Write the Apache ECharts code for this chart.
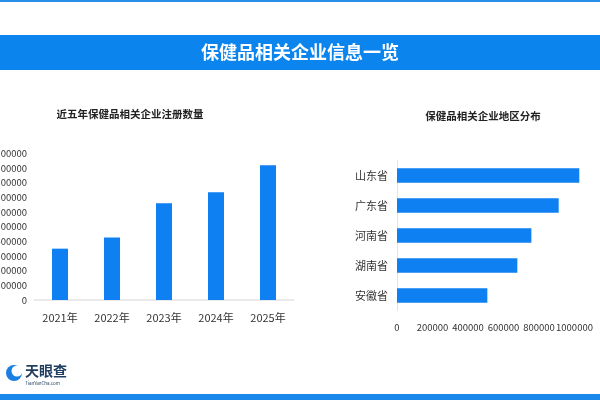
<!DOCTYPE html>
<html><head><meta charset="utf-8">
<script src="https://cdn.jsdelivr.net/npm/echarts@6/dist/echarts.min.js"></script>
<style>html,body{margin:0;padding:0;background:#fff}#c{width:600px;height:400px}</style>
</head><body><div id="c"></div>
<script>
const years = ['2021年','2022年','2023年','2024年','2025年'];
const yearValues = [350000, 426000, 660000, 735000, 919000];
const provinces = ['山东省','广东省','河南省','湖南省','安徽省'];
const provinceValues = [1027000, 911000, 757000, 678000, 509000];
const mainTitle = '保健品相关企业信息一览';
const leftTitle = '近五年保健品相关企业注册数量';
const rightTitle = '保健品相关企业地区分布';

const FONT = '"Noto Sans CJK SC", "Noto Sans", sans-serif';
const BLUE = '#0f80f2';
const plain = v => String(v);
const chart = echarts.init(document.getElementById('c'), null, {renderer:'canvas'});
chart.setOption({
  animation:false,
  textStyle:{fontFamily:FONT},
  graphic:[
    {type:'rect', shape:{x:0,y:0,width:600,height:2}, style:{fill:'#2a8fe8'}},
    {type:'rect', shape:{x:0,y:35,width:600,height:35}, style:{fill:'#0b84ee'}},
    {type:'text', x:300, y:52.5, style:{text:mainTitle, fill:'#fff', font:'bold 18px '+FONT, textAlign:'center', textVerticalAlign:'middle'}},
    {type:'rect', shape:{x:0,y:394,width:600,height:6}, style:{fill:'#1a88ea'}},
    {type:'circle', shape:{cx:14,cy:373,r:8}, style:{fill:'#1a7fe0'}},
    {type:'circle', shape:{cx:17,cy:371,r:5.5}, style:{fill:'#fff'}},
    {type:'text', x:25, y:371, style:{text:'天眼查', fill:'#1f3d5e', font:'bold 14px '+FONT, textVerticalAlign:'middle'}},
    {type:'text', x:25, y:383, style:{text:'TianYanCha.com', fill:'#1f3d5e', font:'4.5px '+FONT, textVerticalAlign:'middle'}}
  ],
  title:[
    {text:leftTitle, left:125, top:104, textAlign:'center', textStyle:{fontSize:10.5, fontWeight:'bold', color:'#222', fontFamily:FONT}},
    {text:rightTitle, left:478, top:106, textAlign:'center', textStyle:{fontSize:10.5, fontWeight:'bold', color:'#222', fontFamily:FONT}}
  ],
  grid:[
    {left:34, width:260, top:153.3, height:146.7, containLabel:false, outerBoundsMode:'none'},
    {left:397, width:213, top:160.5, height:150, containLabel:false, outerBoundsMode:'none'}
  ],
  xAxis:[
    {gridIndex:0, type:'category', data:years, axisTick:{show:false},
     axisLine:{lineStyle:{color:'#e3e3e3', width:1.5}},
     axisLabel:{color:'#333', fontSize:11, margin:12, fontFamily:FONT}},
    {gridIndex:1, type:'value', min:0, max:1200000, interval:200000,
     axisLine:{show:false}, axisTick:{show:false}, splitLine:{show:false},
     axisLabel:{color:'#333', fontSize:9.5, margin:12, fontFamily:FONT, formatter:plain, hideOverlap:false}}
  ],
  yAxis:[
    {gridIndex:0, type:'value', min:0, max:1000000, interval:100000,
     axisLine:{show:false}, axisTick:{show:false}, splitLine:{show:false},
     axisLabel:{color:'#333', fontSize:9.5, margin:7, fontFamily:FONT, formatter:plain}},
    {gridIndex:1, type:'category', data:provinces, inverse:true, axisTick:{show:false},
     axisLine:{lineStyle:{color:'#e3e3e3', width:1}},
     axisLabel:{color:'#333', fontSize:11, margin:9, fontFamily:FONT}}
  ],
  series:[
    {type:'bar', xAxisIndex:0, yAxisIndex:0, data:yearValues, barWidth:16, itemStyle:{color:BLUE}},
    {type:'bar', xAxisIndex:1, yAxisIndex:1, data:provinceValues, barWidth:14.5, itemStyle:{color:BLUE}}
  ]
});
</script></body></html>
